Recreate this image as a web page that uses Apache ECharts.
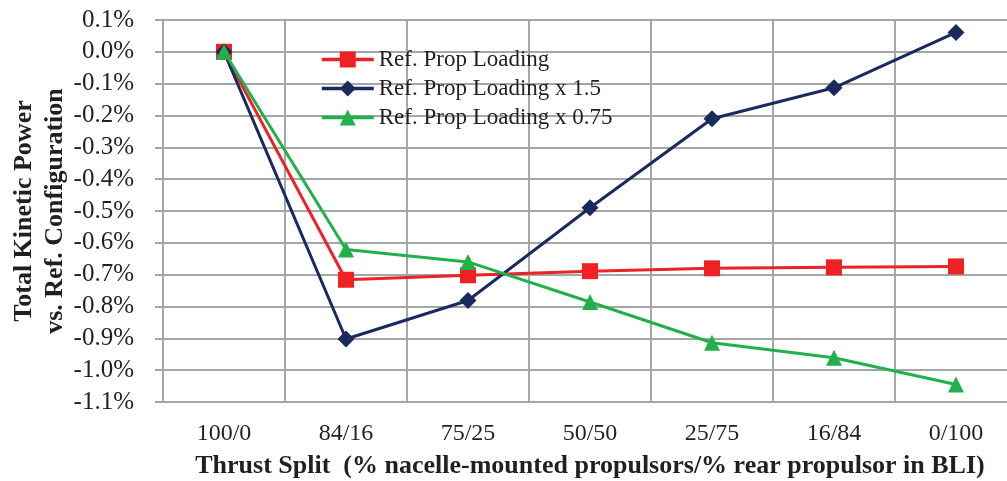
<!DOCTYPE html>
<html><head><meta charset="utf-8">
<script src="https://cdn.jsdelivr.net/npm/echarts@6/dist/echarts.min.js"></script>
<style>html,body{margin:0;padding:0;background:#fff}#c{width:1007px;height:481px}</style>
</head><body><div id="c"></div>
<script>
const categories = ['100/0','84/16','75/25','50/50','25/75','16/84','0/100'];
const refLoading = [0, -0.716, -0.702, -0.689, -0.680, -0.677, -0.674];
const refLoading15 = [0, -0.902, -0.781, -0.490, -0.210, -0.113, 0.061];
const refLoading075 = [0, -0.621, -0.660, -0.786, -0.914, -0.961, -1.045];
const seriesNames = ['Ref. Prop Loading','Ref. Prop Loading x 1.5','Ref. Prop Loading x 0.75'];
const xTitle = 'Thrust Split  (% nacelle-mounted propulsors/% rear propulsor in BLI)';
const yTitle = 'Total Kinetic Power\nvs. Ref. Configuration';

const font = 'Liberation Serif';
const gridColor = '#a6a6a6';
const chart = echarts.init(document.getElementById('c'));
function mk(name, data, color, symbol, size){
  return {name, type:'line', data, color, symbol, symbolSize:size,
    lineStyle:{width:3,color}, itemStyle:{color}, z: 3};
}
chart.setOption({
  animation:false,
  grid:{left:163,width:854,top:20,height:382,containLabel:false,outerBoundsMode:'none'},
  legend:{
    orient:'vertical', left:315, top:43, itemWidth:52, itemHeight:20, itemGap:6,
    textStyle:{fontFamily:font,fontSize:23,color:'#231f20'},
    lineStyle:{width:3.5},
    data:seriesNames.map(n=>({name:n, itemStyle:{borderWidth:0}}))
  },
  xAxis:{
    type:'category', data:categories, boundaryGap:true,
    axisLine:{show:true,lineStyle:{color:gridColor,width:2}},
    axisTick:{show:false},
    splitLine:{show:true,interval:0,lineStyle:{color:gridColor,width:2}},
    axisLabel:{fontFamily:font,fontSize:24,color:'#231f20',margin:20,interval:0},
    name:xTitle, nameLocation:'middle', nameGap:51,
    nameTextStyle:{fontFamily:font,fontSize:26,fontWeight:'bold',color:'#231f20'}
  },
  yAxis:{
    type:'value', min:-1.1, max:0.1, interval:0.1,
    axisLine:{show:true,lineStyle:{color:gridColor,width:2}},
    axisTick:{show:true,length:8,lineStyle:{color:gridColor,width:2}},
    splitLine:{show:true,lineStyle:{color:gridColor,width:2}},
    axisLabel:{fontFamily:font,fontSize:25,color:'#231f20',margin:29,
      formatter:v=>(Math.round(v*10)/10).toFixed(1)+'%'},
    name:yTitle, nameLocation:'middle', nameGap:92, nameMoveOverlap:false,
    nameTextStyle:{fontFamily:font,fontSize:26,fontWeight:'bold',color:'#231f20',lineHeight:31}
  },
  series:[
    mk(seriesNames[0], refLoading, '#ee2224', 'rect', 16),
    mk(seriesNames[1], refLoading15, '#1b2a5e', 'diamond', 17),
    mk(seriesNames[2], refLoading075, '#22b04b', 'triangle', 16)
  ]
});
</script></body></html>
